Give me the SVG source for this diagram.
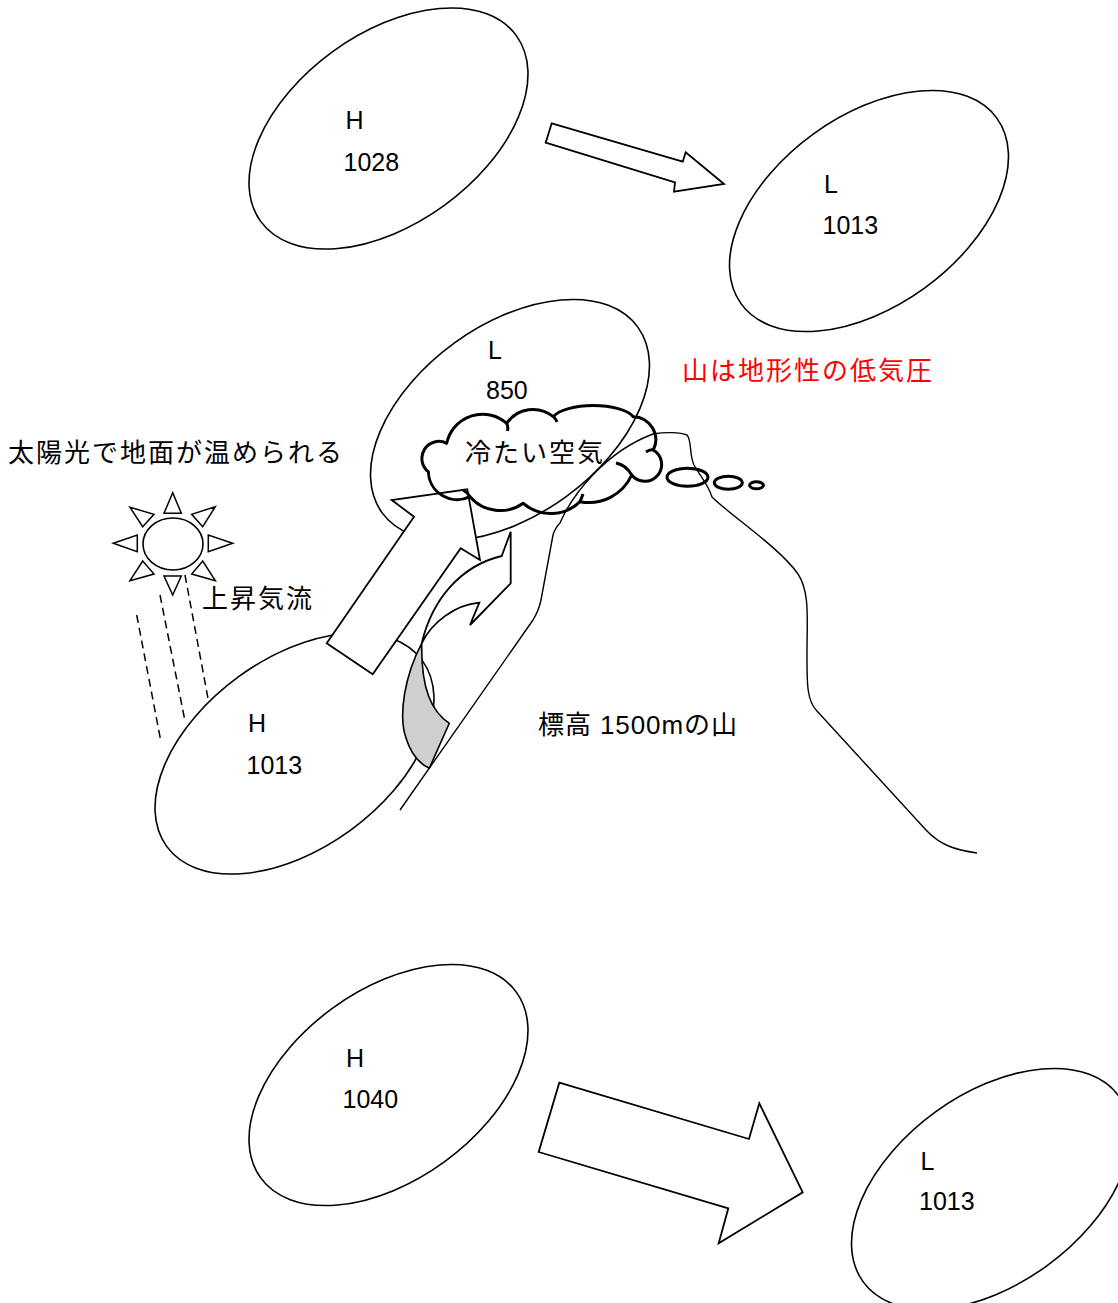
<svg xmlns="http://www.w3.org/2000/svg" width="1118" height="1303" viewBox="0 0 1118 1303">
  <style>
    .cell { fill: #fff; stroke: #000; stroke-width: 1.6; }
    .block { fill: #fff; stroke: #000; stroke-width: 1.8; stroke-linejoin: miter; }
    .thin { fill: none; stroke: #000; stroke-width: 1.4; }
    .dash { fill: none; stroke: #000; stroke-width: 1.5; stroke-dasharray: 8 5; }
    .ray { fill: #fff; stroke: #000; stroke-width: 1.5; }
    .puff { fill: none; stroke: #000; stroke-width: 3; stroke-linejoin: round; }
    .lbl { font-family: "Liberation Sans", Arial, sans-serif; font-size: 25px; fill: #000; }
    .jp { font-family: "Liberation Sans", "Noto Sans CJK JP", sans-serif; font-size: 26px; fill: #000; }
  </style>
  <defs>
    <ellipse id="cellShape" cx="0" cy="0" rx="158" ry="95"/>
  </defs>

  <rect width="1118" height="1303" fill="#fff"/>

  <!-- pressure cells -->
  <g id="high-1028">
    <use href="#cellShape" class="cell" transform="translate(388.5,128.5) rotate(-36)"/>
    <text class="lbl" x="345.5" y="129">H</text>
    <text class="lbl" x="343.5" y="170.5">1028</text>
  </g>
  <g id="low-1013-top">
    <use href="#cellShape" class="cell" transform="translate(869,211) rotate(-36)"/>
    <text class="lbl" x="824" y="193">L</text>
    <text class="lbl" x="822.5" y="234">1013</text>
  </g>
  <g id="low-850">
    <use href="#cellShape" class="cell" transform="translate(510,420) rotate(-36)"/>
    <text class="lbl" x="488" y="358.5">L</text>
    <text class="lbl" x="486" y="398.5">850</text>
  </g>
  <g id="high-1013">
    <use href="#cellShape" class="cell" transform="translate(294.5,753.5) rotate(-36)"/>
    <text class="lbl" x="248" y="732">H</text>
    <text class="lbl" x="246.5" y="774">1013</text>
  </g>
  <g id="high-1040">
    <use href="#cellShape" class="cell" transform="translate(388.5,1085) rotate(-36)"/>
    <text class="lbl" x="346" y="1067">H</text>
    <text class="lbl" x="342.5" y="1108">1040</text>
  </g>
  <g id="low-1013-bottom">
    <use href="#cellShape" class="cell" transform="translate(991,1189) rotate(-36)"/>
    <text class="lbl" x="920.5" y="1169.5">L</text>
    <text class="lbl" x="919" y="1210">1013</text>
  </g>

  <!-- flow arrows -->
  <g id="connectors">
    <polygon class="block" points="551.7,123.3 682.7,161.7 685.7,152.3 724,184 674,191.7 675,182.3 545.7,142.7"/>
    <polygon class="block" points="559.3,1082.7 749,1139 759.3,1103.3 802.7,1192.3 718.7,1243.3 728.3,1208.3 538.7,1152"/>
    <!-- rising air from the warm ground -->
    <polygon class="block" points="326.7,643.3 414,516.7 391.7,500 467.3,489.3 480,560 460.7,548.3 372.7,674.3"/>
    <!-- curved arrow along the slope: shaded underside, then front band -->
    <path d="M421.7,643.3 C405,675 398,715 406,738 C411,754 420,764 429.3,768.3 L449.3,723.3 C432,712 421,690 421.7,643.3 Z" fill="#cfcfcf" stroke="#000" stroke-width="1.6" stroke-linejoin="round"/>
    <path d="M421.7,643.3 C432,600 460,566 501.7,556 L510.7,531.7 L510.7,583.3 L470,625 L479.3,602.7 C455,605 432,622 421.7,643.3 Z" class="block"/>
  </g>

  <!-- mountain profile -->
  <g id="mountain">
    <path class="thin" d="M400,810 L533,620 Q539,610 541,600 L553,535 Q555,528 560,523 C572,495 605,452 653,434 C665,432 680,432 687,435 C692,440 689,455 694,465 C700,476 708,484 712,497 C730,515 780,548 798,574 C810,592 807,620 807,650 C807,680 806,700 817,711 L926,830 C940,845 955,850 977,853"/>
    <text class="jp" x="538" y="734" textLength="199" lengthAdjust="spacing">標高 1500mの山</text>
  </g>

  <!-- cold air cloud -->
  <g id="cold-air">
    <path class="puff" d="M446.7,443.3 A17,17 0 0 0 428.3,471.7 A29,29 0 0 0 470,496.7 A40,40 0 0 0 523.3,503.3 A42,42 0 0 0 580,501.7 A47,47 0 0 0 631.7,475 A16.8,16.8 0 1 0 653.3,450 A23,23 0 0 0 633.3,416.7 A42,16 0 0 0 553.3,416.7 A32,32 0 0 0 506.7,423.3 A36.6,36.6 0 0 0 446.7,443.3 Z"/>
    <path class="puff" stroke-width="2.6" d="M631.7,475 Q626,465 616,463 M653.3,450 Q650,449 646,452 M506.7,423.3 Q508.5,427 507.5,431 M553.3,416.7 Q556,419 557,422 M470,496.7 Q467,492 463,490 M580,501.7 Q582,497 583,494"/>
    <ellipse class="puff" cx="687.5" cy="477.3" rx="20.5" ry="9"/>
    <ellipse class="puff" cx="728.3" cy="482.7" rx="14" ry="6.5"/>
    <ellipse class="puff" cx="756.5" cy="485.3" rx="7" ry="3.5"/>
    <text class="jp" x="465" y="462" textLength="138" lengthAdjust="spacing">冷たい空気</text>
  </g>

  <!-- sun and its rays -->
  <g id="sun">
    <ellipse cx="173" cy="544" rx="30" ry="26" fill="#fff" stroke="#000" stroke-width="1.6"/>
    <polygon class="ray" points="172.7,492.7 164,513.3 181.3,513.3"/>
    <polygon class="ray" points="164,576 181.3,576 172.7,595"/>
    <polygon class="ray" points="113.3,543.3 137.3,535 137.3,551.7"/>
    <polygon class="ray" points="208.3,535 208.3,551.7 232.7,543.3"/>
    <polygon class="ray" points="130,507.3 154,514.3 142.7,526.7"/>
    <polygon class="ray" points="215.3,506.7 191.7,514.3 202.7,526.7"/>
    <polygon class="ray" points="130,580.7 142.7,561 154,574"/>
    <polygon class="ray" points="215.3,580.7 202.7,561 191.7,574"/>
    <line class="dash" x1="136.7" y1="615" x2="161" y2="742"/>
    <line class="dash" x1="160" y1="595" x2="185" y2="721"/>
    <line class="dash" x1="185" y1="575" x2="208.3" y2="700"/>
  </g>

  <!-- captions -->
  <g id="captions">
    <text class="jp" x="8" y="462" textLength="334" lengthAdjust="spacing">太陽光で地面が温められる</text>
    <text class="jp" x="202" y="608" textLength="110" lengthAdjust="spacing">上昇気流</text>
    <text class="jp" x="682" y="380" textLength="250" lengthAdjust="spacing" fill="#ff0000" style="fill:#ff0000">山は地形性の低気圧</text>
  </g>
</svg>
